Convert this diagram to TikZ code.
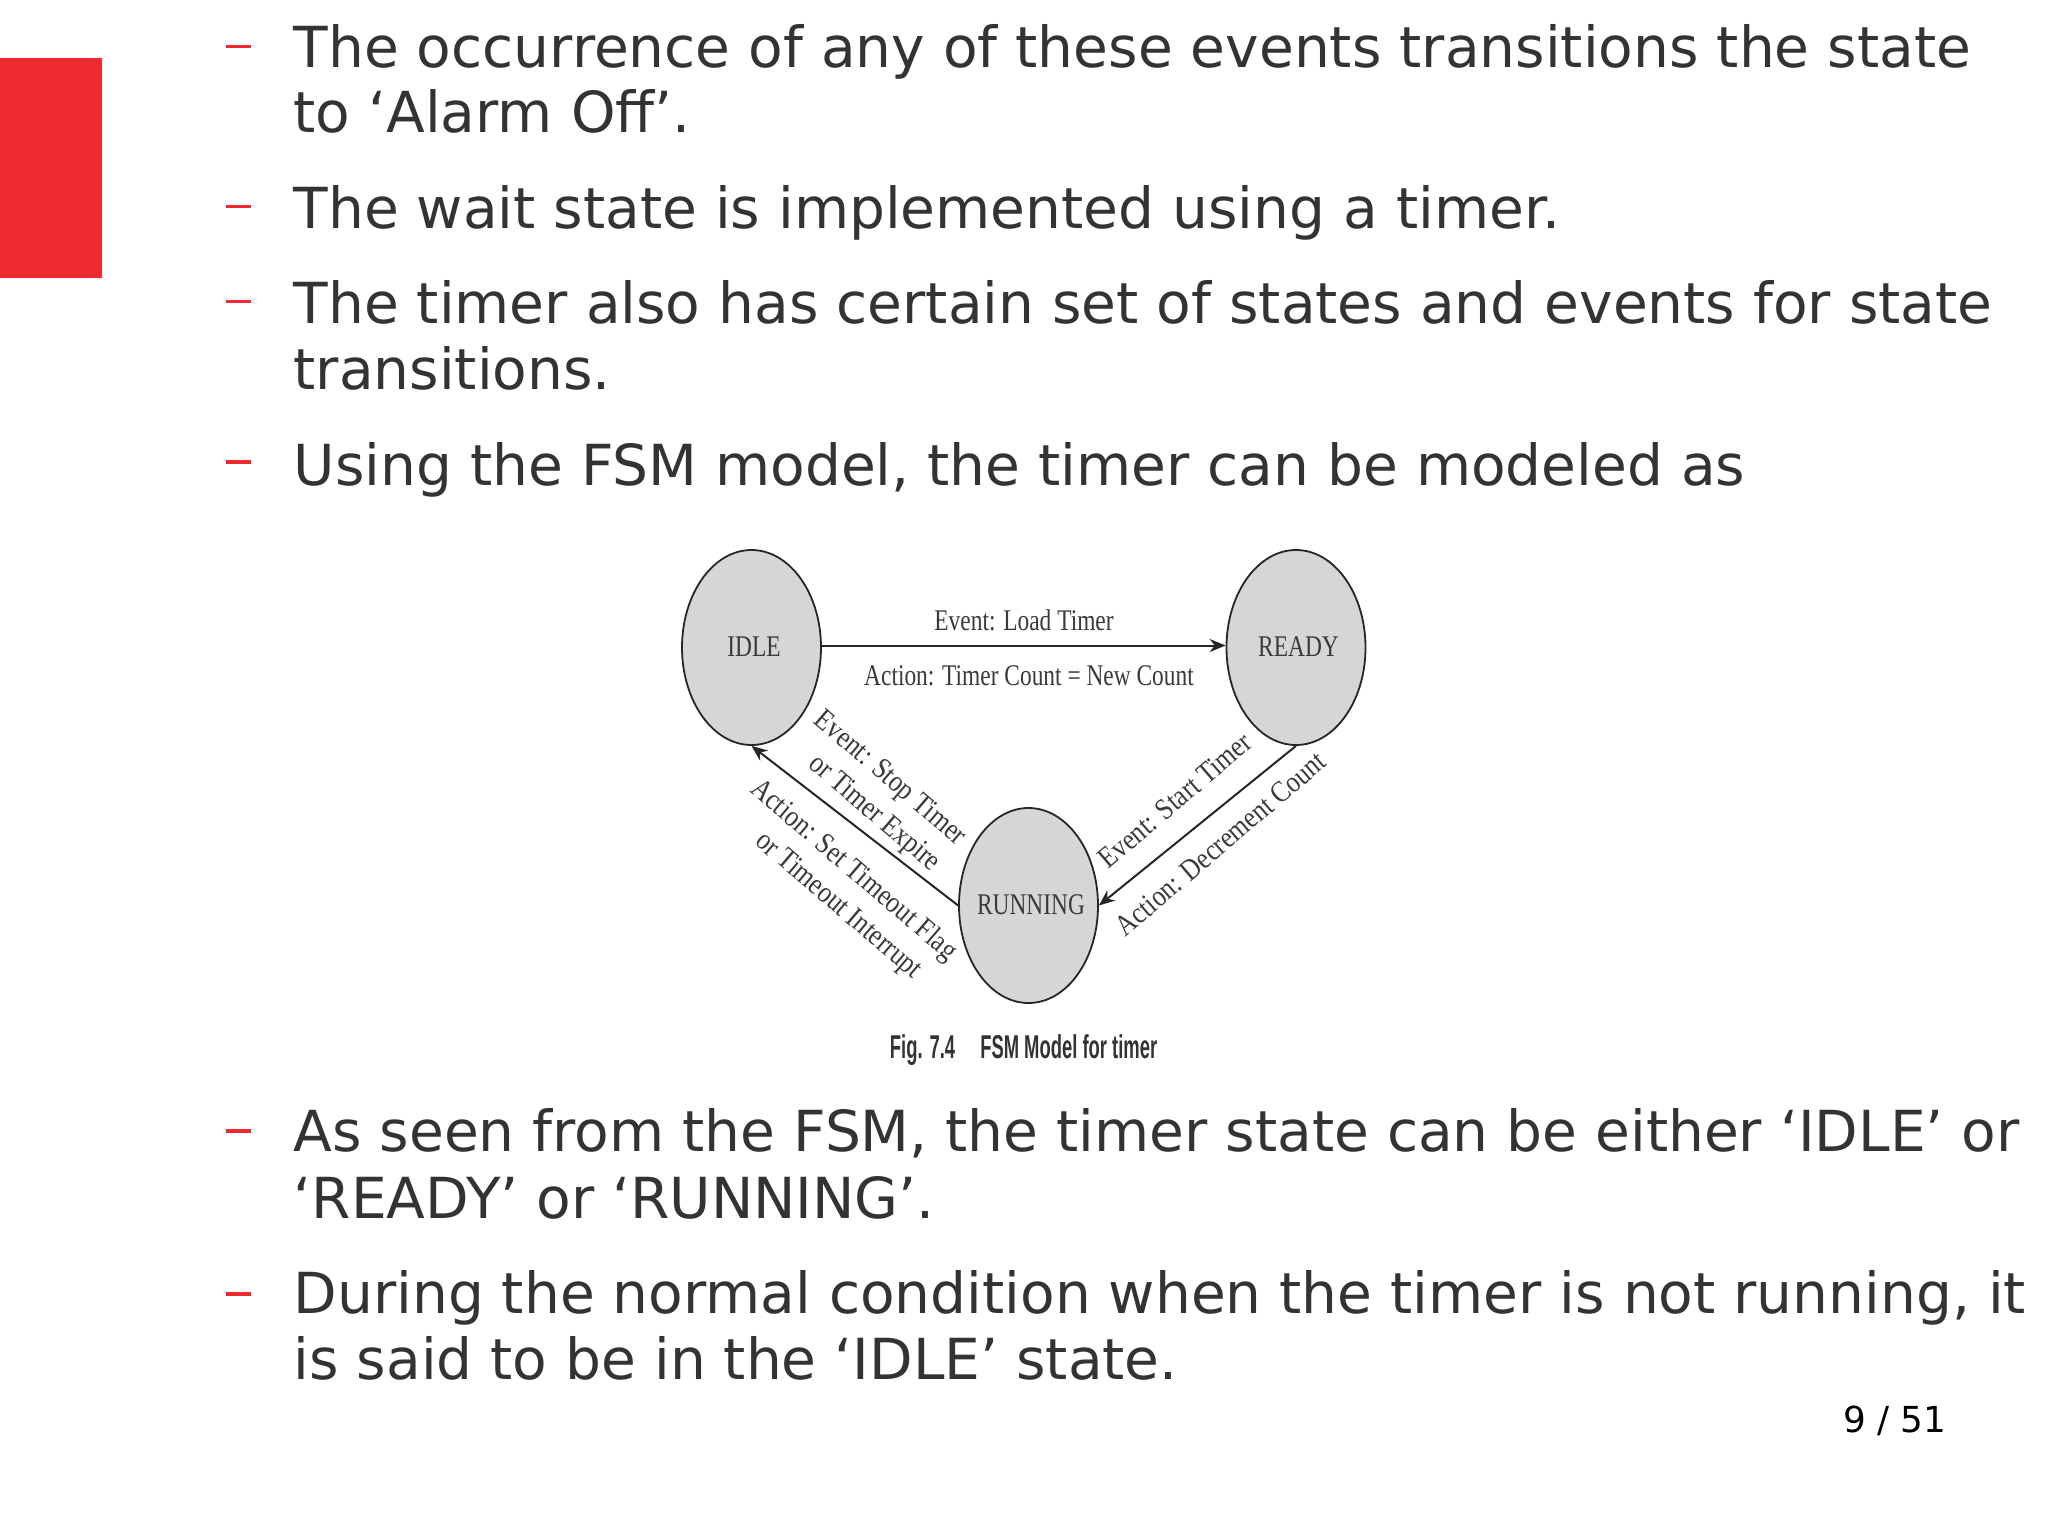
\documentclass[tikz,border=0pt]{standalone}
\usepackage{fontspec}
\usepackage{graphicx}
\usetikzlibrary{shapes.geometric,arrows.meta}
\setmainfont{DejaVu Sans}
\newfontfamily\figserif{Liberation Serif}
\newfontfamily\figsans{Liberation Sans}
\definecolor{bodytext}{HTML}{333333}
\definecolor{accent}{HTML}{EF2B2F}
\definecolor{statefill}{HTML}{D6D6D6}
\definecolor{figtext}{HTML}{3A3A3A}
\newcommand{\narrow}[2][.78]{\scalebox{#1}[1]{#2}}
\newcommand{\statetext}[2][2.5pt]{\makebox[0pt]{\hspace{5pt}\raisebox{#1}{\narrow{#2}}}}
\tikzset{
  x=1pt,y=-1pt,
  bodyline/.style={anchor=base west,inner sep=0pt,text=bodytext,font=\fontsize{56.6}{66}\selectfont},
  dashmark/.style={fill=accent,draw=none},
  statenode/.style={ellipse,draw=black!85,line width=1.8pt,fill=statefill,minimum width=139pt,minimum height=195pt,inner sep=0pt,text=figtext,font=\figserif\fontsize{30}{32}\selectfont},
  figlabel/.style={inner sep=0pt,text=figtext,font=\figserif\fontsize{30}{32}\selectfont},
  transition/.style={draw=black!85,line width=2pt,-{Stealth[length=16pt,width=13pt]}},
}
\begin{document}
\begin{tikzpicture}
\useasboundingbox (0,0) rectangle (2048,1536);
\fill[white] (0,0) rectangle (2048,1536);
\fill[accent] (0,58) rectangle (102,278);
% dashes
\foreach \yy in {46.6,206.5,301.3,461.8,1131,1294}{
  \fill[dashmark] (226,\yy-1.7) rectangle (251,\yy+1.7);
}
% body text
\node[bodyline] (l1) at (293.5,67.6) {The occurrence of any of these events transitions the state};
\node[bodyline] (l2) at (293.5,133) {to ‘Alarm Off’.};
\node[bodyline] (l3) at (293.5,228.3) {The wait state is implemented using a timer.};
\node[bodyline] (l4) at (293.5,323.6) {The timer also has certain set of states and events for state};
\node[bodyline] (l5) at (293.5,389.6) {transitions.};
\node[bodyline] (l6) at (293.5,485.5) {Using the FSM model, the timer can be modeled as};
\node[bodyline] (l7) at (293.5,1151) {As seen from the FSM, the timer state can be either ‘IDLE’ or};
\node[bodyline] (l8) at (293.5,1218) {‘READY’ or ‘RUNNING’.};
\node[bodyline] (l9) at (293.5,1313) {During the normal condition when the timer is not running, it};
\node[bodyline] (l10) at (293.5,1379) {is said to be in the ‘IDLE’ state.};
\node[anchor=base west,inner sep=0pt,text=black,font=\fontsize{35.8}{38}\selectfont] (page) at (1843,1432) {9 / 51};
% FSM
\node[statenode] (idle) at (751.5,647.5) {\statetext{IDLE}};
\node[statenode] (ready) at (1296,647.5) {\statetext{READY}};
\node[statenode] (running) at (1028.5,905.5) {\statetext[1pt]{RUNNING}};
\draw[transition] ([yshift=2pt]idle.east) -- ([yshift=2pt]ready.west);
\draw[transition] (ready.south) -- (running.east);
\draw[transition] (running.west) -- (idle.south);
\node[figlabel] (e1) at (1024,620) {\narrow{Event: Load Timer}};
\node[figlabel] (a1) at (1029,675.5) {\narrow{Action: Timer Count = New Count}};
\node[figlabel,rotate=-40.5] (e3) at (889.4,779.3) {\narrow[.85]{Event: Stop Timer}};
\node[figlabel,rotate=-40.5] (e3c) at (873.8,814) {\narrow[.85]{or Timer Expire}};
\node[figlabel,rotate=-40.5] (a3) at (853.3,871) {\narrow[.85]{Action: Set Timeout Flag}};
\node[figlabel,rotate=-40.5] (a3b) at (837.8,906.5) {\narrow[.85]{or Timeout Interrupt}};
\node[figlabel,rotate=40.5] (e2) at (1175,800.4) {\narrow[.85]{Event: Start Timer}};
\node[figlabel,rotate=40.5] (a2) at (1220.5,843.7) {\narrow[.85]{Action: Decrement Count}};
\node[inner sep=0pt,text=black!80,font=\figsans\bfseries\fontsize{33}{36}\selectfont] (cap) at (1023.6,1050) {\scalebox{.558}[1]{Fig. 7.4\hspace{45pt}FSM Model for timer}};
\end{tikzpicture}
\end{document}
